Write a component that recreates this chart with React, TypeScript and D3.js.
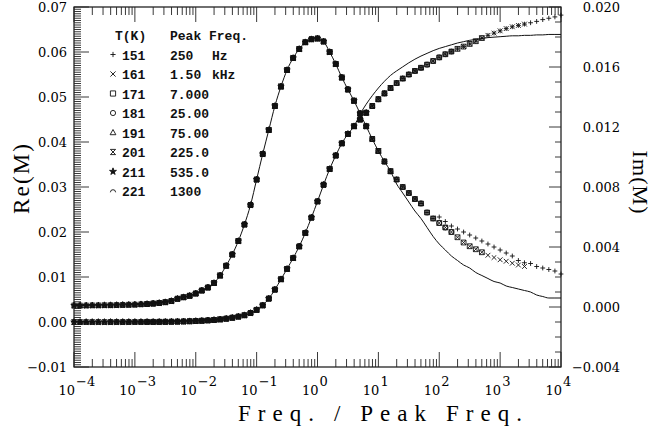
import React, { useRef, useEffect } from "react";
import * as d3 from "d3";

// log10(f / f_peak) grid, 0.1 decade steps from -4 to 4
const logFreq = d3.range(81).map((i) => -4 + i * 0.1);

// Re(M) master curve, left axis
const reData = [
  0.0, 0.0, 0.0, 0.0, 0.0, 0.0, 0.00001, 0.00001, 0.00001, 0.00001,
  0.00002, 0.00002, 0.00003, 0.00003, 0.00004, 0.00005, 0.00007, 0.00009, 0.00012, 0.00016,
  0.00022, 0.00028, 0.00036, 0.00046, 0.00058, 0.00074, 0.00095, 0.0012, 0.0015, 0.002,
  0.0027, 0.0037, 0.0052, 0.0072, 0.0095, 0.0118, 0.0142, 0.0168, 0.0198, 0.0232,
  0.0268, 0.0305, 0.034, 0.037, 0.0397, 0.0418, 0.0435, 0.045, 0.0465, 0.048,
  0.0495, 0.0508, 0.052, 0.0531, 0.0541, 0.055, 0.0558, 0.0565, 0.0572, 0.058,
  0.0588, 0.0595, 0.0601, 0.0607, 0.0612, 0.0618, 0.0624, 0.0631, 0.0637, 0.0642,
  0.0647, 0.0652, 0.0656, 0.0659, 0.0662, 0.0665, 0.0668, 0.0672, 0.0675, 0.0678,
  0.0682,
];

// Im(M) master curve, right axis
const imData = [
  0.0001, 0.0001, 0.0001, 0.00011, 0.00011, 0.00012, 0.00012, 0.00013, 0.00014, 0.00015,
  0.00016, 0.00018, 0.0002, 0.00023, 0.00027, 0.00032, 0.0004, 0.00055, 0.00065, 0.00075,
  0.0009, 0.0011, 0.0013, 0.0016, 0.0021, 0.00275, 0.0035, 0.0044, 0.0055, 0.0068,
  0.0085, 0.0102, 0.0118, 0.0134, 0.0147, 0.0158, 0.0166, 0.0172, 0.01765, 0.01785,
  0.0179, 0.0177, 0.017, 0.0162, 0.0153, 0.0145, 0.01375, 0.0129, 0.01205, 0.0112,
  0.0104, 0.0097, 0.00905, 0.0085, 0.008, 0.0076, 0.0072, 0.0069, 0.0063, 0.0059,
  0.0056, 0.0053, 0.005, 0.00465, 0.0043, 0.00405, 0.00385, 0.00365, 0.00345, 0.0033,
  0.00315, 0.00305, 0.00292, 0.0028, 0.0027, 0.0026, 0.0025, 0.0024, 0.0023, 0.0022,
  0.0021,
];

// 151 K sits higher on the high-frequency tail (log f from 2.0 to 4.0)
const imTail151 = [
  0.006, 0.0057, 0.0054, 0.0052, 0.005, 0.0048, 0.0046, 0.0044, 0.0042, 0.004,
  0.0038, 0.0036, 0.0034, 0.0031, 0.00295, 0.0029, 0.0027, 0.0026, 0.0025, 0.0024,
  0.0022,
];

// fit lines: follow data at low freq, then these tails
const reFitTail = [
  0.0462, 0.0484, 0.0503, // 0.7 .. 0.9
  0.052, 0.0535, 0.0548, 0.0558, 0.0567, 0.0576, 0.0584, 0.0591, 0.0597, 0.0603,
  0.0608, 0.0612, 0.0616, 0.062, 0.0623, 0.0626, 0.0628, 0.063, 0.0632, 0.0633,
  0.0634, 0.0635, 0.0636, 0.0636, 0.0637, 0.0637, 0.0638, 0.0638, 0.0639, 0.0639,
  0.0639,
];
const imFitTail = [
  0.0082, 0.0076, 0.007, 0.0064, 0.0059, 0.0053, 0.0047, // 1.3 .. 1.9
  0.0042, 0.0038, 0.0034, 0.0031, 0.0028, 0.0026, 0.0023, 0.0021, 0.0019, 0.0017,
  0.0016, 0.0014, 0.0013, 0.0012, 0.0011, 0.001, 0.0008, 0.0007, 0.0006, 0.0006,
  0.0006,
];
const reFit = [...reData.slice(0, 47), ...reFitTail];
const imFit = [...imData.slice(0, 53), ...imFitTail];

// series
const temps = [151, 161, 171, 181, 191, 201, 211, 221];
const peakFreq = ["250", "1.50", "7.000", "25.00", "75.00", "225.0", "535.0", "1300"];
const peakUnit = ["Hz", "kHz", "", "", "", "", "", ""];
const logMin = [-1.4, -2.2, -2.8, -3.4, -3.9, -4.0, -4.0, -4.0];
const logMax = [4.0, 3.4, 2.7, 2.2, 1.7, 1.2, 0.8, 0.4];

const decades = [-4, -3, -2, -1, 0, 1, 2, 3, 4];

const markerPath = (k: number, s: number) => {
  switch (k) {
    case 0:
      return `M${-s},0H${s}M0,${-s}V${s}`;
    case 1:
      return `M${-s},${-s}L${s},${s}M${-s},${s}L${s},${-s}`;
    case 2:
      return `M${-s},${-s}H${s}V${s}H${-s}Z`;
    case 3: {
      const p = d3.path();
      p.arc(0, 0, s, 0, 2 * Math.PI);
      return p.toString();
    }
    case 4:
      return `M0,${-s * 1.15}L${s * 1.1},${s * 0.85}L${-s * 1.1},${s * 0.85}Z`;
    case 5:
      return `M${-s},${-s}H${s}L${-s},${s}H${s}Z`;
    case 6:
      return d3.symbol(d3.symbolStar, s * s * 2.2)()!;
    default:
      return `M${-s},${s * 0.5}A${s},${s} 0 0 1 ${s},${s * 0.5}`;
  }
};

const App = () => {
  const svgRef = useRef<SVGSVGElement>(null);

  useEffect(() => {
    document.body.style.margin = "0";
    const svg = d3.select(svgRef.current);
    svg.selectAll("*").remove();

    const left = 74, right = 561, top = 7, bottom = 367;
    const x = d3.scaleLog().domain([1e-4, 1e4]).range([left, right]);
    const yRe = d3.scaleLinear().domain([-0.01, 0.07]).range([bottom, top]);
    const yIm = d3.scaleLinear().domain([-0.004, 0.02]).range([bottom, top]);

    const g = svg.append("g");
    const serif = "DejaVu Serif";

    // frame
    g.append("rect")
      .attr("x", left).attr("y", top)
      .attr("width", right - left).attr("height", bottom - top)
      .attr("fill", "none").attr("stroke", "#111").attr("stroke-width", 1.2);

    const ticks = g.append("g").attr("stroke", "#222").attr("stroke-width", 0.9);

    // left axis ticks (every 0.0005, major each 0.01)
    for (let k = 0; k <= 160; k++) {
      const v = -0.01 + k * 0.0005;
      const len = k % 20 === 0 ? 15 : 7;
      ticks.append("line")
        .attr("x1", left).attr("x2", left + len)
        .attr("y1", yRe(v)).attr("y2", yRe(v));
      if (k % 20 === 0) {
        g.append("text")
          .attr("x", 67).attr("y", yRe(v) + 5)
          .attr("text-anchor", "end")
          .attr("font-family", serif).attr("font-size", 13)
          .text(d3.format(".2f")(v));
      }
    }

    // right axis ticks (every 0.001, major each 0.004)
    for (let k = 0; k <= 24; k++) {
      const v = -0.004 + k * 0.001;
      const len = k % 4 === 0 ? 12 : 6;
      ticks.append("line")
        .attr("x1", right).attr("x2", right - len)
        .attr("y1", yIm(v)).attr("y2", yIm(v));
      if (k % 4 === 0) {
        g.append("text")
          .attr("x", 620).attr("y", yIm(v) + 5)
          .attr("text-anchor", "end")
          .attr("font-family", serif).attr("font-size", 13)
          .text(d3.format(".3f")(v));
      }
    }

    // log ticks top and bottom
    decades.forEach((d) => {
      const mults = d === 4 ? [1] : d3.range(1, 10);
      mults.forEach((m) => {
        const xv = x(m * Math.pow(10, d));
        const len = m === 1 ? 15 : 8;
        ticks.append("line").attr("x1", xv).attr("x2", xv).attr("y1", bottom).attr("y2", bottom - len);
        ticks.append("line").attr("x1", xv).attr("x2", xv).attr("y1", top).attr("y2", top + len);
      });
      const xv = x(Math.pow(10, d));
      g.append("text")
        .attr("x", xv + 1).attr("y", 395)
        .attr("text-anchor", "end")
        .attr("font-family", serif).attr("font-size", 13)
        .text("10");
      g.append("text")
        .attr("x", xv + 2).attr("y", 386)
        .attr("font-family", serif).attr("font-size", 13)
        .text(d < 0 ? `\u2212${-d}` : `${d}`);
    });

    // axis titles
    g.append("text")
      .attr("transform", "translate(29,179) rotate(-90)")
      .attr("text-anchor", "middle")
      .attr("font-family", "Liberation Serif").attr("font-size", 23)
      .attr("textLength", 70).attr("lengthAdjust", "spacing")
      .text("Re(M)");
    g.append("text")
      .attr("transform", "translate(633,182) rotate(90)")
      .attr("text-anchor", "middle")
      .attr("font-family", "Liberation Serif").attr("font-size", 22)
      .attr("textLength", 63).attr("lengthAdjust", "spacing")
      .text("Im(M)");
    g.append("text")
      .attr("x", 238).attr("y", 421)
      .attr("font-family", "Liberation Serif").attr("font-size", 23)
      .attr("textLength", 284).attr("lengthAdjust", "spacing")
      .text("Freq. / Peak Freq.");

    // data markers
    const marks = g.append("g");
    const drawMarker = (k: number, px: number, py: number, s: number) => {
      marks.append("path")
        .attr("d", markerPath(k, s))
        .attr("transform", `translate(${px},${py})`)
        .attr("fill", k === 6 ? "#111" : "none")
        .attr("stroke", "#111")
        .attr("stroke-width", 0.9);
    };

    temps.forEach((t, s) => {
      const i0 = Math.round((logMin[s] + 4) * 10);
      const i1 = Math.round((logMax[s] + 4) * 10);
      for (let i = i0; i <= i1; i++) {
        const f = Math.pow(10, logFreq[i]);
        const im = s === 0 && i >= 60 ? imTail151[i - 60] : imData[i];
        drawMarker(s, x(f), yRe(reData[i]), 2.4);
        drawMarker(s, x(f), yIm(im), 2.4);
      }
    });

    // fit lines
    const lineRe = d3.line<number>()
      .x((_, i) => x(Math.pow(10, logFreq[i])))
      .y((v) => yRe(v))
      .curve(d3.curveMonotoneX);
    const lineIm = d3.line<number>()
      .x((_, i) => x(Math.pow(10, logFreq[i])))
      .y((v) => yIm(v))
      .curve(d3.curveMonotoneX);
    g.append("path").attr("d", lineRe(reFit)).attr("fill", "none").attr("stroke", "#111").attr("stroke-width", 1);
    g.append("path").attr("d", lineIm(imFit)).attr("fill", "none").attr("stroke", "#111").attr("stroke-width", 1);

    // legend
    const legend = g.append("g")
      .attr("font-family", "Liberation Mono").attr("font-size", 13).attr("font-weight", "bold").attr("fill", "#111");
    legend.append("text").attr("x", 115).attr("y", 40).text("T(K)");
    legend.append("text").attr("x", 170).attr("y", 40).text("Peak Freq.");
    temps.forEach((t, s) => {
      const cy = 35 + 19.5 * (s + 1);
      legend.append("path")
        .attr("d", markerPath(s, 2.6))
        .attr("transform", `translate(113,${cy})`)
        .attr("fill", s === 6 ? "#111" : "none")
        .attr("stroke", "#111").attr("stroke-width", 0.9);
      legend.append("text").attr("x", 122).attr("y", cy + 5).text(String(t));
      legend.append("text").attr("x", 170).attr("y", cy + 5).text(peakFreq[s]);
      if (peakUnit[s]) legend.append("text").attr("x", 212).attr("y", cy + 5).text(peakUnit[s]);
    });
  }, []);

  return <svg ref={svgRef} width={652} height={433} style={{ display: "block", background: "#fff" }}></svg>;
};

export default App;
